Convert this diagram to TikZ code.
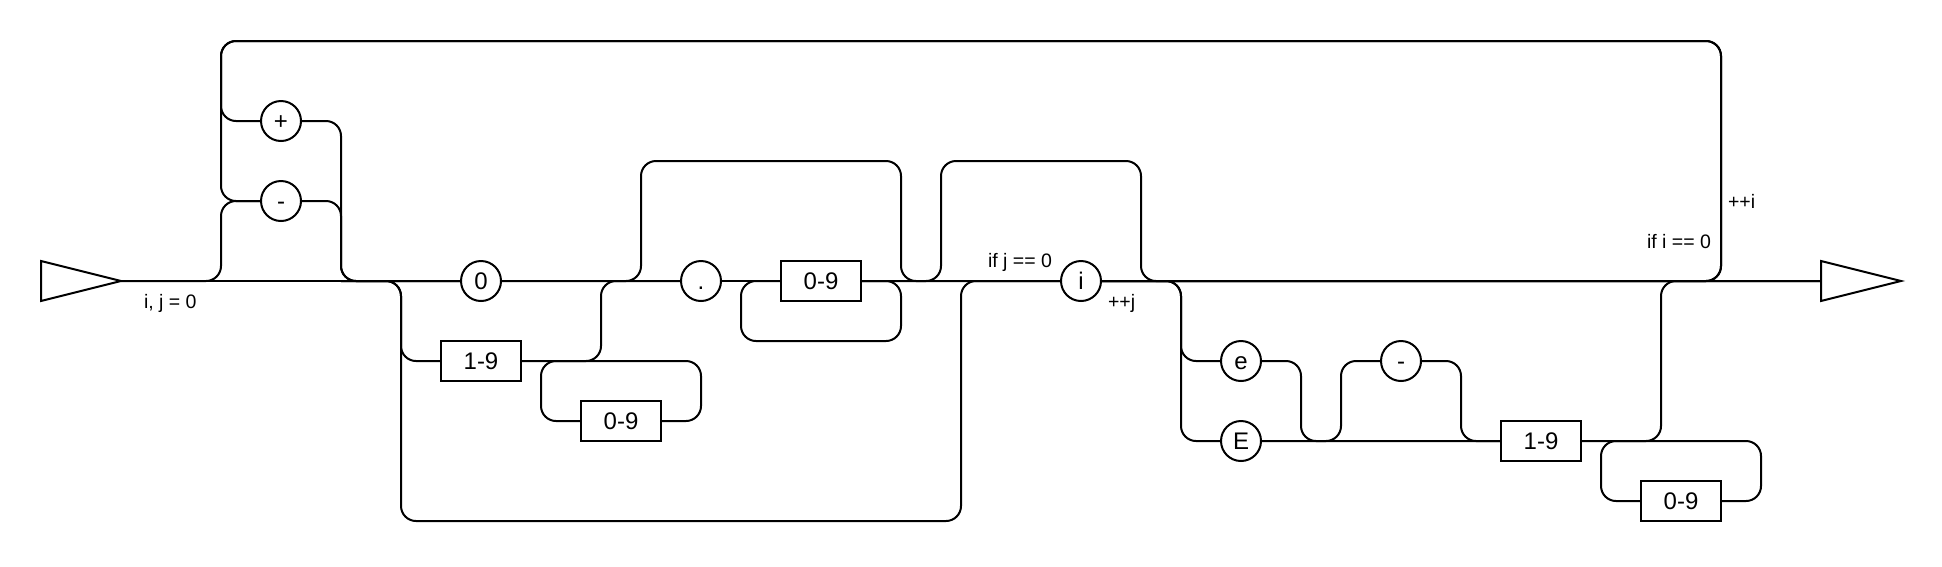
\documentclass[tikz,border=0pt]{standalone}
\usepackage{fontspec}
\setmainfont{Liberation Sans}
\begin{document}
\begin{tikzpicture}[
  x=1pt, y=-1pt,
  line width=2pt,
  token/.style={circle, draw, minimum size=40pt, inner sep=0pt, text height=17pt, text depth=0pt, font=\fontsize{24}{28}\selectfont},
  digits/.style={rectangle, draw, minimum width=80pt, minimum height=40pt, inner sep=0pt, text height=17pt, text depth=0pt, font=\fontsize{24}{28}\selectfont},
  rail/.style={rounded corners=15pt},
  note/.style={inner sep=0pt, font=\fontsize{19.5}{23}\selectfont}
]
\useasboundingbox (0,0) rectangle (1942,566);

% Nodes
\node[token] (plus) at (281,121) {+};
\node[token] (minus) at (281,201) {-};
\node[token] (zero) at (481,281) {0};
\node[digits] (nzd) at (481,361) {1-9};
\node[digits] (intd) at (621,421) {0-9};
\node[token] (dot) at (701,281) {.};
\node[digits] (fracd) at (821,281) {0-9};
\node[token] (imag) at (1081,281) {i};
\node[token] (ee) at (1241,361) {e};
\node[token] (EE) at (1241,441) {E};
\node[token] (expm) at (1401,361) {-};
\node[digits] (expnz) at (1541,441) {1-9};
\node[digits] (expd) at (1681,501) {0-9};

% Start and stop
\coordinate (start) at (121,281);
\coordinate (stop) at (1821,281);
\coordinate (sgnout) at (341,281);
\draw (start) -- ++(-80,-20) -- ++(0,40) -- cycle;
\draw (stop) ++(0,-20) -- ++(80,20) -- ++(-80,20) -- cycle;

% Main line
\draw (start) -- (zero) -- (dot) -- (fracd) -- (imag) -- (stop);

% Sign
\draw[rail] (start) -| (221,201) -- (minus);
\draw[rail] (imag.east) -| (1721,41) -| (221,121) -- (plus);
\draw[rail] (imag.east) -| (1721,41) -| (221,201) -- (minus);
\draw[rail] (plus) -| (sgnout) -- (zero);
\draw[rail] (minus) -| (sgnout) -- (zero);

% Integer part
\draw[rail] (sgnout) -| (401,361) -- (nzd);
\draw[rail] (sgnout) -| (401,521) -| (961,281) -- (imag);
\draw[rail] (nzd) -| (601,281) -- (dot);
\draw[rail] (intd) -| (701,361) -| (541,421) -- (intd);

% Fraction
\draw[rail] (zero) -| (641,161) -| (901,281) -- (imag);
\draw[rail] (fracd) -| (901,341) -| (741,281) -- (fracd);

% Imaginary unit
\draw[rail] (fracd) -| (941,161) -| (1141,281) -- (stop);

% Exponent
\draw[rail] (imag) -| (1181,361) -- (ee);
\draw[rail] (imag) -| (1181,441) -- (EE);
\draw[rail] (ee) -| (1301,441) -- (expnz);
\draw (EE) -- (expnz);
\draw[rail] (EE) -| (1341,361) -- (expm);
\draw[rail] (expm) -| (1461,441) -- (expnz);
\draw[rail] (expnz) -| (1661,281) -- (stop);
\draw[rail] (expd) -| (1761,441) -| (1601,501) -- (expd);

% Labels
\node[note, anchor=base west] (ij) at (143,308) {i, j = 0};
\node[note, anchor=base west] (ifj) at (987,267) {if j == 0};
\node[note, anchor=base west] (incj) at (1107,308) {++j};
\node[note, anchor=base west] (inci) at (1727,208) {++i};
\node[note, anchor=base east] (ifi) at (1712,248) {if i == 0};

\end{tikzpicture}
\end{document}
